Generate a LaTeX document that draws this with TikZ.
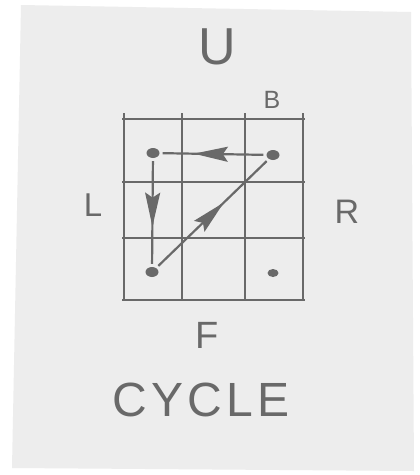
\documentclass[tikz,border=0pt]{standalone}
\usepackage{fontspec}
\setmainfont{Liberation Sans}
\usetikzlibrary{decorations.markings,arrows.meta,shapes.geometric}
\definecolor{paper}{RGB}{237,237,237}
\definecolor{pencil}{RGB}{105,105,105}
\tikzset{
  gridline/.style={draw=pencil, line width=2.3pt},
  dotmark/.style={ellipse, fill=pencil, inner sep=0pt, minimum width=13pt, minimum height=10pt},
  pathline/.style={draw=pencil, line width=2.2pt, shorten <=3pt, shorten >=3pt,
    postaction={decorate, decoration={markings,
      mark=at position #1 with {\arrow{Stealth[length=34pt,width=15pt,inset=5pt]}}}}},
  lbl/.style={text=pencil, inner sep=0pt},
}
\begin{document}
\begin{tikzpicture}[x=1pt,y=-1pt]
\fill[white] (0,0) rectangle (420,475);
\useasboundingbox (0,0) rectangle (420,475);
\fill[paper] (21,5) -- (411,12) -- (414,471) -- (12,468) -- cycle;
% grid
\foreach \x in {124,182,245,303}{\draw[gridline] (\x,113) -- (\x,301);}
\foreach \y in {119,182,238,300}{\draw[gridline] (122,\y) -- (305,\y);}
% dots
\node[dotmark] (tl) at (153,153) {};
\node[dotmark] (tr) at (273,155) {};
\node[dotmark] (bl) at (152,272) {};
\node[dotmark, minimum width=11pt, minimum height=8pt] (br) at (273,273) {};
% arrows
\draw[pathline=0.68] (tr) -- (tl);
\draw[pathline=0.63] (tl) -- (bl);
\draw[pathline=0.6] (bl) -- (tr);
% labels
\node[lbl, font=\fontsize{52}{56}\selectfont] (u) at (217,47) {U};
\node[lbl, font=\fontsize{25}{28}\selectfont] (b) at (272,100) {B};
\node[lbl, font=\fontsize{33}{36}\selectfont] (l) at (93,205) {L};
\node[lbl, font=\fontsize{34}{38}\selectfont] (r) at (347,212) {R};
\node[lbl, font=\fontsize{38}{42}\selectfont] (f) at (207,335) {F};
\node[lbl, font=\fontsize{48}{52}\selectfont\addfontfeature{LetterSpace=9}] (cycle) at (201,400) {CYCLE};
\end{tikzpicture}
\end{document}
